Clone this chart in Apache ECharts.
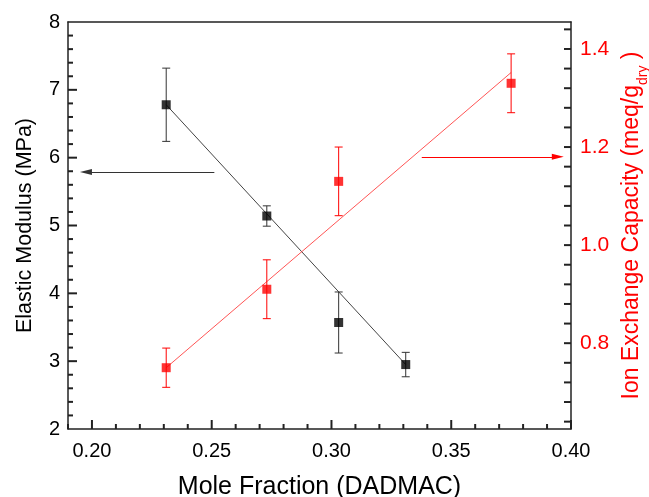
<!DOCTYPE html>
<html><head><meta charset="utf-8">
<script src="https://cdn.jsdelivr.net/npm/echarts@6/dist/echarts.min.js"></script>
<style>html,body{margin:0;padding:0;background:#fff}#c{width:649px;height:497px}</style>
</head><body><div id="c"></div>
<script>
// ---- data ----
const modFrac = [0.231, 0.273, 0.303, 0.331];
const modulus = [6.78, 5.14, 3.57, 2.95];
const modulusErr = [0.54, 0.15, 0.45, 0.18];
const iecFrac = [0.231, 0.273, 0.303, 0.375];
const iec = [0.75, 0.91, 1.13, 1.33];
const iecErr = [0.04, 0.06, 0.07, 0.06];
const modFitX = [0.231, 0.331];
const modFitY = [6.78, 2.95];
const iecFitX = [0.231, 0.375];
const iecFitY = [0.75, 1.352];
const leftArrowX = [0.2511, 0.1975];
const leftArrowY = [5.79, 5.79];
const rightArrowX = [0.3377, 0.3945];
const rightArrowY = [1.18, 1.18];
// ---- ticks ----
const xMajor = [0.20, 0.25, 0.30, 0.35, 0.40];
const xAllTicks = [0.19,0.20,0.21,0.22,0.23,0.24,0.25,0.26,0.27,0.28,0.29,0.30,0.31,0.32,0.33,0.34,0.35,0.36,0.37,0.38,0.39,0.40];
const leftMajor = [2, 3, 4, 5, 6, 7, 8];
const leftAllTicks = [2.2,2.4,2.6,2.8,3,3.2,3.4,3.6,3.8,4,4.2,4.4,4.6,4.8,5,5.2,5.4,5.6,5.8,6,6.2,6.4,6.6,6.8,7,7.2,7.4,7.6,7.8];
const rightLabels = [0.8, 1.0, 1.2, 1.4];
const rightAllTicks = [0.64,0.68,0.72,0.76,0.8,0.84,0.88,0.92,0.96,1.0,1.04,1.08,1.12,1.16,1.2,1.24,1.28,1.32,1.36,1.4,1.44];

const FONT = '"Liberation Sans", Arial, sans-serif';
const AX = '#222';
const RED = '#ff0000';

function errBars(xs, ys, es, yIdx, color) {
  return {
    type: 'custom', xAxisIndex: 0, yAxisIndex: yIdx, z: 3,
    data: xs.map((x, i) => [x, ys[i] - es[i], ys[i] + es[i]]),
    renderItem: function (params, api) {
      const lo = api.coord([api.value(0), api.value(1)]);
      const hi = api.coord([api.value(0), api.value(2)]);
      const w = 4;
      const st = { stroke: color, lineWidth: 1 };
      return { type: 'group', children: [
        { type: 'line', shape: { x1: lo[0], y1: lo[1], x2: hi[0], y2: hi[1] }, style: st },
        { type: 'line', shape: { x1: lo[0] - w, y1: lo[1], x2: lo[0] + w, y2: lo[1] }, style: st },
        { type: 'line', shape: { x1: hi[0] - w, y1: hi[1], x2: hi[0] + w, y2: hi[1] }, style: st }
      ]};
    }
  };
}

// inward tick marks placed through the axes' own scales
function tickMarks(side, values, majors, yIdx, majorLen, minorLen) {
  return {
    type: 'custom', xAxisIndex: 0, yAxisIndex: yIdx, z: 6, silent: true, clip: false,
    data: values.map(v => [v, majors.some(m => Math.abs(m - v) < 1e-9) ? 1 : 0]),
    renderItem: function (params, api) {
      const cs = params.coordSys;
      const v = api.value(0);
      const len = api.value(1) === 1 ? majorLen : minorLen;
      const st = { stroke: AX, lineWidth: 2 };
      if (side === 'x') {
        const px = api.coord([v, yIdx === 0 ? 5 : 1])[0];
        const by = cs.y + cs.height;
        return { type: 'line', shape: { x1: px, y1: by, x2: px, y2: by - len }, style: st };
      }
      const py = api.coord([0.3, v])[1];
      if (side === 'left') {
        return { type: 'line', shape: { x1: cs.x, y1: py, x2: cs.x + len, y2: py }, style: st };
      }
      const rx = cs.x + cs.width;
      return { type: 'line', shape: { x1: rx, y1: py, x2: rx - len, y2: py }, style: st };
    }
  };
}

const chart = echarts.init(document.getElementById('c'), null, { renderer: 'canvas' });
chart.setOption({
  animation: false,
  backgroundColor: '#fff',
  grid: { left: 68, right: 78, top: 22, bottom: 68, outerBoundsMode: 'none' },
  xAxis: [{
    type: 'value', min: 0.19, max: 0.40, position: 'bottom',
    axisLine: { show: true, lineStyle: { color: AX, width: 1.5 } },
    axisTick: { show: false },
    axisLabel: { customValues: xMajor, formatter: v => v.toFixed(2), color: '#000', fontSize: 20, fontFamily: FONT, margin: 12 },
    splitLine: { show: false },
    name: 'Mole Fraction (DADMAC)', nameLocation: 'middle', nameGap: 46,
    nameTextStyle: { color: '#000', fontSize: 25, fontFamily: FONT }
  }, {
    type: 'value', min: 0.19, max: 0.40, position: 'top',
    axisLine: { show: true, lineStyle: { color: AX, width: 1.5 } },
    axisTick: { show: false }, axisLabel: { show: false }, splitLine: { show: false }
  }],
  yAxis: [{
    type: 'value', min: 2, max: 8, interval: 1, position: 'left',
    axisLine: { show: true, lineStyle: { color: AX, width: 1.5 } },
    axisTick: { show: false },
    axisLabel: { color: '#000', fontSize: 20, fontFamily: FONT, margin: 8 },
    splitLine: { show: false },
    name: 'Elastic Modulus (MPa)', nameLocation: 'middle', nameRotate: 90, nameGap: 32,
    nameTextStyle: { color: '#000', fontSize: 21.5, fontFamily: FONT }
  }, {
    type: 'value', min: 0.625, max: 1.455, position: 'right',
    axisLine: { show: true, lineStyle: { color: AX, width: 1.5 } },
    axisTick: { show: false },
    axisLabel: { customValues: rightLabels, formatter: v => v.toFixed(1), color: RED, fontSize: 21, fontFamily: FONT, margin: 9 },
    splitLine: { show: false },
    name: '{t|Ion Exchange Capacity (meq/g}{s|dry}{t| )}', nameLocation: 'middle', nameRotate: 90, nameGap: 42,
    nameTextStyle: { color: RED, fontSize: 23, fontFamily: FONT,
      rich: { t: { color: RED, fontSize: 23, fontFamily: FONT, lineHeight: 28, verticalAlign: 'bottom' },
              s: { color: RED, fontSize: 14, fontFamily: FONT, lineHeight: 28, verticalAlign: 'bottom', padding: [0, 0, -7, 0] } } }
  }],
  series: [
    { type: 'line', xAxisIndex: 0, yAxisIndex: 0, data: modFitX.map((x, i) => [x, modFitY[i]]),
      symbol: 'none', lineStyle: { color: '#444', width: 1 }, z: 2 },
    { type: 'line', xAxisIndex: 0, yAxisIndex: 1, data: iecFitX.map((x, i) => [x, iecFitY[i]]),
      symbol: 'none', lineStyle: { color: '#ff5555', width: 1 }, z: 2 },
    errBars(modFrac, modulus, modulusErr, 0, '#333'),
    errBars(iecFrac, iec, iecErr, 1, RED),
    { type: 'scatter', xAxisIndex: 0, yAxisIndex: 0, data: modFrac.map((x, i) => [x, modulus[i]]),
      symbol: 'rect', symbolSize: 9, itemStyle: { color: '#000' }, z: 5 },
    { type: 'scatter', xAxisIndex: 0, yAxisIndex: 1, data: iecFrac.map((x, i) => [x, iec[i]]),
      symbol: 'rect', symbolSize: 9, itemStyle: { color: RED }, z: 5 },
    tickMarks('x', xAllTicks, xMajor, 0, 9, 5),
    tickMarks('left', leftAllTicks, leftMajor, 0, 9, 5),
    tickMarks('right', rightAllTicks, [], 1, 7, 7),
    { type: 'line', xAxisIndex: 0, yAxisIndex: 0, data: [], silent: true,
      markLine: { silent: true, symbol: ['none', 'triangle'], symbolSize: [6, 12], label: { show: false },
        lineStyle: { color: '#333', width: 1, type: 'solid' },
        data: [[{ coord: [leftArrowX[0], leftArrowY[0]] }, { coord: [leftArrowX[1], leftArrowY[1]] }]] } },
    { type: 'line', xAxisIndex: 0, yAxisIndex: 1, data: [], silent: true,
      markLine: { silent: true, symbol: ['none', 'triangle'], symbolSize: [6, 12], label: { show: false },
        lineStyle: { color: RED, width: 1, type: 'solid' },
        data: [[{ coord: [rightArrowX[0], rightArrowY[0]] }, { coord: [rightArrowX[1], rightArrowY[1]] }]] } }
  ]
});
</script></body></html>
